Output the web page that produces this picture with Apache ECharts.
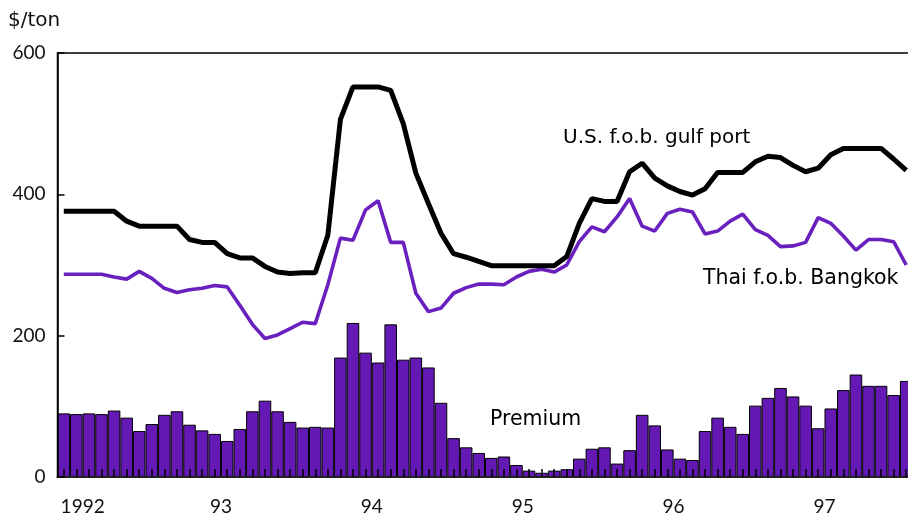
<!DOCTYPE html>
<html>
<head>
<meta charset="utf-8">
<script src="https://cdn.jsdelivr.net/npm/echarts@6/dist/echarts.min.js"></script>
<style>
  html, body { margin: 0; padding: 0; background: #fff; overflow: hidden; }
  #chart { width: 920px; height: 516px; }
</style>
</head>
<body>
<div id="chart"></div>
<script>
// ---- Data (monthly, Jan 1992 – Aug 1997) ----
var startYear = 1992;
var monthCount = 68;
var categories = [];
for (var k = 0; k < monthCount; k++) {
  var yy = startYear + Math.floor(k / 12);
  var mm = (k % 12) + 1;
  categories.push(yy + '-' + (mm < 10 ? '0' + mm : mm));
}

var usGulf = [
  376, 376, 376, 376, 376, 362, 355, 355, 355, 355, 336, 332,
  332, 316, 310, 310, 298, 290, 288, 289, 289, 342, 506, 552,
  552, 552, 547, 500, 430, 387, 345, 316, 311, 305, 299, 299,
  299, 299, 299, 299, 312, 359, 394, 390, 390, 432, 444, 423,
  412, 404, 399, 408, 431, 431, 431, 446, 454, 452, 441, 432,
  437, 456, 465, 465, 465, 465, 450, 434
];

var thaiBangkok = [
  287, 287, 287, 287, 283, 280, 291, 281, 267, 261, 265, 267,
  271, 269, 243, 216, 196, 201, 210, 219, 217, 272, 338, 335,
  378, 391, 332, 332, 260, 234, 239, 260, 268, 273, 273, 272,
  283, 291, 294, 290, 300, 333, 354, 347, 368, 394, 355, 348,
  373, 379, 375, 344, 348, 362, 372, 350, 342, 326, 327, 332,
  367, 359, 341, 321, 336, 336, 333, 300
];

var premium = [
  90, 89, 90, 89, 94, 84, 65, 75, 88, 93, 74, 66,
  61, 51, 68, 93, 108, 93, 78, 70, 71, 70, 169, 218,
  176, 162, 216, 166, 169, 155, 105, 55, 42, 34, 27, 29,
  17, 9, 6, 9, 11, 26, 40, 42, 19, 38, 88, 73,
  39, 26, 24, 65, 84, 71, 61, 101, 112, 126, 114, 101,
  69, 97, 123, 145, 129, 129, 116, 136
];

var yTicks = [0, 200, 400, 600];
var yearLabels = ['1992', '93', '94', '95', '96', '97'];
// month positions of the year labels (boundary after January; first one after February)
var yearLabelPos = [2, 13, 25, 37, 49, 61];

var seriesNames = { us: 'U.S. f.o.b. gulf port', thai: 'Thai f.o.b. Bangkok', prem: 'Premium' };
var unitLabel = '$/ton';

// ---- Chart ----
var FONT = 'Lato, "Noto Sans", sans-serif';
var FONT2 = '"DejaVu Sans", sans-serif';
var chart = echarts.init(document.getElementById('chart'), null, { renderer: 'canvas' });

var option = {
  animation: false,
  backgroundColor: '#ffffff',
  grid: {
    left: 57.5, top: 53, width: 855, height: 424,
    show: true, borderColor: '#000', borderWidth: 1.5, backgroundColor: 'transparent'
  },
  xAxis: [
    {
      type: 'category',
      data: categories,
      boundaryGap: true,
      z: 10,
      axisLine: { show: true, lineStyle: { color: '#222', width: 2 } },
      axisTick: { show: true, inside: true, interval: 0, alignWithLabel: true, length: 8, lineStyle: { color: '#000', width: 1.5 } },
      axisLabel: { show: false },
      splitLine: { show: false }
    },
    {
      type: 'value',
      min: 0,
      max: monthCount,
      position: 'bottom',
      axisLine: { show: false },
      axisTick: { show: false },
      splitLine: { show: false },
      axisLabel: {
        show: true,
        customValues: yearLabelPos,
        margin: 20,
        fontFamily: FONT,
        fontSize: 19,
        color: '#111',
        formatter: function (v) {
          var i = yearLabelPos.indexOf(Math.round(v));
          return i >= 0 ? yearLabels[i] : '';
        }
      }
    }
  ],
  yAxis: {
    type: 'value',
    min: 0,
    max: 600,
    interval: 200,
    z: 10,
    axisLine: { show: true, lineStyle: { color: '#000', width: 1.5 } },
    axisTick: { show: true, inside: true, length: 7, lineStyle: { color: '#000', width: 1.5 } },
    axisLabel: { fontFamily: FONT, fontSize: 19, color: '#111', margin: 12 },
    splitLine: { show: false }
  },
  series: [
    {
      name: seriesNames.prem,
      type: 'bar',
      xAxisIndex: 0,
      data: premium,
      barCategoryGap: '0%',
      itemStyle: { color: '#6419b4', borderColor: '#000', borderWidth: 1 },
      z: 2
    },
    {
      name: seriesNames.thai,
      type: 'line',
      xAxisIndex: 0,
      data: thaiBangkok,
      symbol: 'none',
      lineStyle: { color: '#6a1fbf', width: 3.6 },
      z: 3
    },
    {
      name: seriesNames.us,
      type: 'line',
      xAxisIndex: 0,
      data: usGulf,
      symbol: 'none',
      lineStyle: { color: '#000', width: 5 },
      z: 4
    }
  ],
  graphic: [
    { type: 'text', left: 8, top: 11, style: { text: unitLabel, font: '20px ' + FONT2, fill: '#111' } },
    { type: 'text', left: 563, top: 128, style: { text: seriesNames.us, font: '20px ' + FONT2, fill: '#000' } },
    { type: 'text', left: 703, top: 268, style: { text: seriesNames.thai, font: '20.5px ' + FONT2, fill: '#000' } },
    { type: 'text', left: 490, top: 409, style: { text: seriesNames.prem, font: '20.5px ' + FONT2, fill: '#000' } }
  ]
};

chart.setOption(option);
</script>
</body>
</html>
